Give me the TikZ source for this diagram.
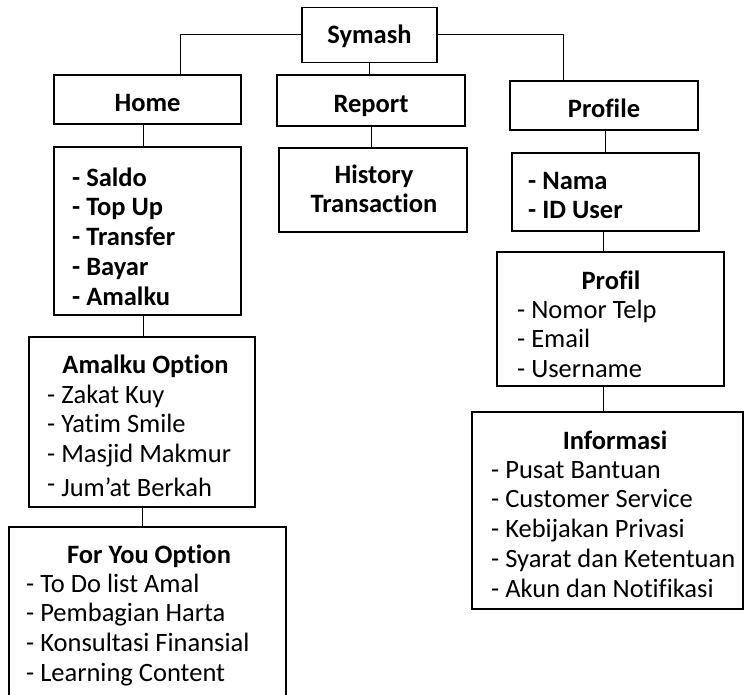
\documentclass[tikz,border=0pt]{standalone}
\usepackage{fontspec}
\setmainfont{Carlito}[Ligatures=NoCommon]
\newcommand{\symfont}{\fontsize{26.5}{29.75}\selectfont}
\begin{document}
\begin{tikzpicture}[x=1pt,y=-1pt,
  every node/.style={font=\symfont},
  box/.style={draw,line width=1.5pt,inner sep=0pt},
  topbox/.style={box,font=\symfont\bfseries,text height=24pt,text depth=0pt},
  head/.style={anchor=base,font=\symfont\bfseries},
  lst/.style={anchor=north west,inner sep=0pt,align=left},
  link/.style={line width=1pt}]
\useasboundingbox (0,0) rectangle (744,695);
\node[box,font=\symfont\bfseries,text height=18pt,text depth=0pt,minimum width=135,minimum height=55] (symash) at (369.5,35) {Symash};
\node[topbox,minimum width=187,minimum height=49] (home) at (147.5,99.5) {Home};
\node[topbox,minimum width=188,minimum height=51] (report) at (371,100.5) {Report};
\node[topbox,minimum width=188,minimum height=49] (profile) at (604,105.5) {Profile};
\node[box,minimum width=187,minimum height=168] (saldo) at (147.5,231) {};
\node[box,minimum width=188,minimum height=84] (history) at (373,190) {};
\node[box,minimum width=187,minimum height=78] (nama) at (605.5,192) {};
\node[box,minimum width=227,minimum height=134] (profil) at (610.5,319) {};
\node[box,minimum width=271,minimum height=197] (info) at (607.5,510.5) {};
\node[box,minimum width=226,minimum height=170] (amalku) at (142,422) {};
\node[box,minimum width=277,minimum height=193] (foryou) at (147.5,623.5) {};
\node[lst,font=\symfont\bfseries] (saldo-txt) at (72,165.2) {\strut- Saldo\\- Top Up\\- Transfer\\- Bayar\\- Amalku};
\node[anchor=north,inner sep=0pt,align=center,font=\symfont\bfseries] (history-txt) at (374,162.2) {\strut History\\Transaction};
\node[lst,font=\symfont\bfseries] (nama-txt) at (528,168.2) {\strut- Nama\\- ID User};
\node[head] (profil-head) at (611,289) {Profil};
\node[lst] (profil-txt) at (517,297.2) {\strut- Nomor Telp\\- Email\\- Username};
\node[head] (info-head) at (615,449) {Informasi};
\node[lst] (info-txt) at (491,457.2) {\strut- Pusat Bantuan\\- Customer Service\\- Kebijakan Privasi\\- Syarat dan Ketentuan\\- Akun dan Notifikasi};
\node[head] (amalku-head) at (145.5,373) {Amalku Option};
\node[lst] (amalku-txt) at (47,382.2) {\strut- Zakat Kuy\\- Yatim Smile\\- Masjid Makmur\\[4pt]\raisebox{4pt}{-} Jum’at Berkah};
\node[head] (foryou-head) at (149,563) {For You Option};
\node[lst] (foryou-txt) at (26,571.2) {\strut- To Do list Amal\\- Pembagian Harta\\- Konsultasi Finansial\\- Learning Content};
\draw[link] (symash.west) -| ([xshift=32.5pt]home.north);
\draw[link] (symash.east) -| ([xshift=-41pt]profile.north);
\draw[link] (symash.south) -- (symash.south |- report.north);
\draw[link] (report.south) -- (report.south |- history.north);
\draw[link] ([xshift=-4pt]home.south) -- ([xshift=-4pt]home.south |- saldo.north);
\draw[link] ([xshift=-4pt]saldo.south) -- ([xshift=-4pt]saldo.south |- amalku.north);
\draw[link] (amalku.south) -- (amalku.south |- foryou.north);
\draw[link] (nama.north) -- (nama.north |- profile.south);
\draw[link] ([xshift=-2pt]nama.south) -- ([xshift=-2pt]nama.south |- profil.north);
\draw[link] ([xshift=-7pt]profil.south) -- ([xshift=-7pt]profil.south |- info.north);
\end{tikzpicture}
\end{document}
